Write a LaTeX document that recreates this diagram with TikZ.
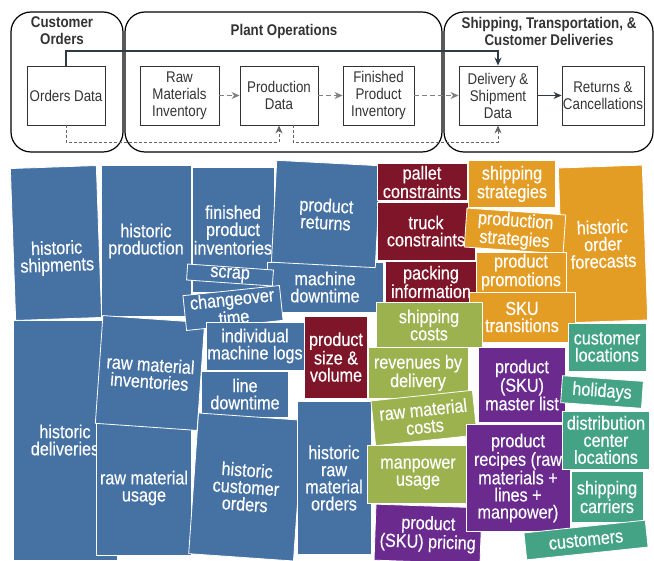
\documentclass[tikz,border=0pt]{standalone}
\usepackage{fontspec}
\setmainfont{Liberation Sans}[FakeStretch=0.86]
\newfontfamily\tilefamily{Liberation Sans}[FakeStretch=0.86,FakeBold=0.35]
\usepackage{xcolor}
\usepackage{tikz}
\usetikzlibrary{arrows.meta,positioning,calc}

\definecolor{tblue}{HTML}{4672A3}
\definecolor{tred}{HTML}{7E1528}
\definecolor{tgreen}{HTML}{9BB24F}
\definecolor{torange}{HTML}{E39D25}
\definecolor{tpurple}{HTML}{6A2A8E}
\definecolor{tteal}{HTML}{45A385}
\definecolor{ink}{HTML}{333333}
\definecolor{slate}{HTML}{2E3B45}

\newcommand{\tilefont}{\tilefamily\fontsize{18.8}{17.1}\selectfont}
\newcommand{\boxfont}{\fontsize{15.5}{17}\selectfont}
\newcommand{\headfont}{\fontsize{15.5}{17}\selectfont\bfseries}

\begin{document}
\begin{tikzpicture}[x=1pt,y=1pt,
  group/.style={draw=black,line width=1.2pt,rounded corners=20pt},
  head/.style={text=ink,font=\headfont,align=center,inner sep=0pt},
  databox/.style={draw=ink,line width=0.9pt,text=ink,font=\boxfont,align=center,
    minimum width=#1pt,minimum height=59pt,inner sep=1pt},
  flow/.style={draw=slate,line width=1.2pt,-{Stealth[length=8pt,width=7pt]}},
  flowd/.style={draw=gray,line width=1pt,dash pattern=on 5pt off 3pt,
    -{Stealth[length=8pt,width=7pt]}},
  feed/.style={draw=gray!80!black,line width=0.9pt,dash pattern=on 3pt off 2pt,
    -{Stealth[length=8pt,width=7pt]}},
  tile/.style={fill=#1,draw=white,line width=0.8pt,inner sep=0pt,outer sep=0pt,
    text=white,font=\tilefont,align=center},
  sz/.style 2 args={minimum width=#1pt,minimum height=#2pt}]
  \useasboundingbox (0,0) rectangle (654,-561);

  % Process groups
  \draw[group] (11,-12) rectangle (123,-152);
  \draw[group] (125,-12) rectangle (442,-152);
  \draw[group] (444,-12) rectangle (653,-152);
  \node[head] (hcust) at (62,-31) {Customer\\Orders};
  \node[head] (hplant) at (284,-31) {Plant Operations};
  \node[head] (hship) at (549,-31) {Shipping, Transportation, \&\\Customer Deliveries};

  % Data boxes
  \node[databox=78] (od) at (66,-95.5) {Orders Data};
  \node[databox=79] (rmv) at (179.5,-95.5) {Raw\\Materials\\Inventory};
  \node[databox=78] (pd) at (279,-95.5) {Production\\Data};
  \node[databox=71] (fpv) at (378.5,-95.5) {Finished\\Product\\Inventory};
  \node[databox=78] (dl) at (498,-95.5) {Delivery \&\\Shipment\\Data};
  \node[databox=78] (rc) at (603,-95.5) {Returns \&\\Cancellations};

  % Flows
  \coordinate (topbus) at (0,-51);
  \coordinate (botbus) at (0,-142);
  \draw[flowd] (rmv) -- (pd);
  \draw[flowd] (pd) -- (fpv);
  \draw[flowd] (fpv) -- (dl);
  \draw[flow] (dl) -- (rc);
  \draw[flow,rounded corners=0pt] (od.north) -- (od.north |- topbus) -| (dl.north);
  \draw[feed] (od.south) -- (od.south |- botbus) -| (pd.south);
  \draw[feed] ($(pd.south)+(14,0)$) -- ($(pd.south |- botbus)+(14,0)$) -| (dl.south);

  % Blue tiles
  \node[tile=tblue,sz={104}{240}] (hdel) at (65,-440) {historic\\deliveries};
  \node[tile=tblue,sz={86}{152},rotate=2] (hshp) at (56,-243) {};
  \node[text=white,font=\tilefont,align=center,rotate=2] (hshptxt) at (57,-258) {historic\\shipments};
  \node[tile=tblue,sz={90}{151}] (hprod) at (146,-241) {historic\\production};
  \node[tile=tblue,sz={95}{134}] (rmu) at (144,-488) {raw material\\usage};
  \node[tile=tblue,sz={102}{108},rotate=-4] (rmi) at (150,-373) {raw material\\inventories};
  \node[tile=tblue,sz={82}{125}] (fpi) at (233,-230) {finished\\product\\inventories};
  \node[tile=tblue,sz={116}{50}] (mdown) at (325,-287) {machine\\downtime};
  \node[tile=tblue,sz={104}{102},rotate=-3] (pret) at (326,-214) {product\\returns};
  \node[tile=tblue,sz={86}{16},rotate=-4] (scrap) at (230,-275) {scrap};
  \node[tile=tblue,sz={97}{35},rotate=6] (chg) at (233,-308) {changeover\\time};
  \node[tile=tblue,sz={98}{48}] (iml) at (255,-346) {individual\\machine logs};
  \node[tile=tblue,sz={87}{46}] (ldown) at (245,-394) {line\\downtime};
  \node[tile=tblue,sz={105}{141},rotate=-4] (hco) at (246,-487) {historic\\customer\\orders};
  \node[tile=tblue,sz={74}{153}] (hrmo) at (334,-478) {historic\\raw\\material\\orders};

  % Constraint tiles
  \node[tile=tred,sz={90}{37}] (pallet) at (422,-182) {pallet\\constraints};
  \node[tile=tred,sz={98}{58}] (truck) at (426,-231) {truck\\constraints};
  \node[tile=tred,sz={92}{41}] (pack) at (431,-282) {packing\\information};
  \node[tile=tred,sz={63}{82}] (psize) at (336,-357) {product\\size \&\\volume};

  % Strategy tiles
  \node[tile=torange,sz={87}{47}] (sstrat) at (512,-184) {shipping\\strategies};
  \node[tile=torange,sz={84}{155},rotate=2] (hof) at (603,-244) {historic\\order\\forecasts};
  \node[tile=torange,sz={99}{39},rotate=-4] (pstrat) at (515,-231) {production\\strategies};
  \node[tile=torange,sz={90}{40}] (promo) at (521,-272) {product\\promotions};
  \node[tile=torange,sz={106}{50}] (sku) at (522,-317) {SKU\\transitions};

  % Cost tiles
  \node[tile=tgreen,sz={106}{45}] (scost) at (429,-325) {shipping\\costs};
  \node[tile=tgreen,sz={100}{51}] (rev) at (418,-373) {revenues by\\delivery};
  \node[tile=tgreen,sz={102}{45},rotate=6] (rmc) at (424,-418) {raw material\\costs};
  \node[tile=tgreen,sz={102}{58}] (mpow) at (418,-474) {manpower\\usage};

  % Product tiles
  \node[tile=tpurple,sz={106}{56},rotate=-2] (price) at (428,-534) {product\\(SKU) pricing};
  \node[tile=tpurple,sz={87}{75}] (master) at (522,-385) {product\\(SKU)\\master list};
  \node[tile=tpurple,sz={104}{107}] (recipe) at (518,-478) {product\\recipes (raw\\materials +\\lines +\\manpower)};

  % Network tiles
  \node[tile=tteal,sz={78}{48}] (cloc) at (607,-347) {customer\\locations};
  \node[tile=tteal,sz={81}{27},rotate=-4] (holi) at (602,-392) {holidays};
  \node[tile=tteal,sz={87}{58}] (dcl) at (606,-440) {distribution\\center\\locations};
  \node[tile=tteal,sz={72}{51}] (carr) at (607,-497) {shipping\\carriers};
  \node[tile=tteal,sz={122}{27},rotate=6] (cust) at (586,-540) {customers};
\end{tikzpicture}
\end{document}
